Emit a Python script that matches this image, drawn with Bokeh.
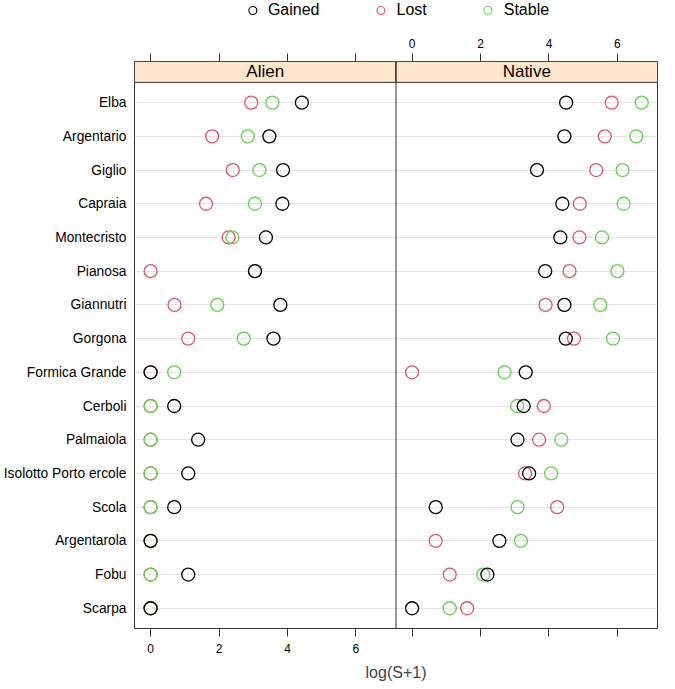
from bokeh.plotting import figure
from bokeh.models import (FixedTicker, CustomJSTickFormatter, LinearAxis, Range1d,
                          Span, Legend, LegendItem)
from bokeh.layouts import column
from bokeh.core.properties import value
from bokeh.embed import file_html
from bokeh.resources import INLINE

# ---------------- data ----------------
islands = ["Elba", "Argentario", "Giglio", "Capraia", "Montecristo", "Pianosa",
           "Giannutri", "Gorgona", "Formica Grande", "Cerboli", "Palmaiola",
           "Isolotto Porto ercole", "Scola", "Argentarola", "Fobu", "Scarpa"]
panels = ["Alien", "Native"]
groups = ["Gained", "Lost", "Stable"]

alien_gained = [4.42, 3.47, 3.87, 3.85, 3.37, 3.05, 3.79, 3.59, 0.0, 0.69, 1.39, 1.10, 0.69, 0.0, 1.10, 0.0]
alien_lost   = [2.94, 1.80, 2.40, 1.62, 2.28, 0.0, 0.70, 1.10, 0.0, 0.0, 0.0, 0.0, 0.0, 0.0, 0.0, 0.0]
alien_stable = [3.56, 2.84, 3.18, 3.05, 2.39, 3.05, 1.95, 2.72, 0.69, 0.0, 0.0, 0.0, 0.0, 0.0, 0.0, 0.0]

native_gained = [4.50, 4.45, 3.65, 4.39, 4.33, 3.89, 4.45, 4.49, 3.32, 3.26, 3.08, 3.42, 0.69, 2.55, 2.20, 0.0]
native_lost   = [5.83, 5.63, 5.38, 4.90, 4.89, 4.60, 3.90, 4.73, 0.0, 3.85, 3.71, 3.30, 4.24, 0.69, 1.10, 1.61]
native_stable = [6.71, 6.55, 6.15, 6.18, 5.55, 6.00, 5.50, 5.87, 2.70, 3.07, 4.36, 4.06, 3.08, 3.18, 2.08, 1.10]

tick_values = [0, 2, 4, 6]

# ---------------- style ----------------
FONT = "Liberation Sans"
COLORS = {"Gained": "#000000", "Lost": "#DF536B", "Stable": "#61D04F"}
EDGE = "#333333"
STRIP = "#FFE5CC"

PAD = 0.47          # left padding of each panel (data units)
XHI = 7.17          # right edge of each panel
OFF = PAD + XHI     # offset of Native panel in combined coordinate
Y_LO, Y_BODY, Y_TOP = 0.4, 16.6, 17.22

n = len(islands)
rows = [n - i for i in range(n)]

series = {
    "Gained": (alien_gained, native_gained),
    "Lost": (alien_lost, native_lost),
    "Stable": (alien_stable, native_stable),
}

# ---------------- key (legend) strip ----------------
lf = figure(width=659, height=22, x_range=(100, 101), y_range=(100, 101),
            output_backend="svg", toolbar_location=None,
            x_axis_location=None, y_axis_location=None,
            min_border_left=131, min_border_right=2, min_border_top=0, min_border_bottom=0)
lf.title.visible = False
lf.outline_line_color = None
lf.xgrid.visible = False
lf.ygrid.visible = False
items = []
for g in groups:
    r = lf.scatter(x=series[g][0], y=rows, marker="circle", size=8, fill_color=None,
                   line_color=COLORS[g], line_width=1.1, muted_alpha=0)
    r.muted = True
    items.append(LegendItem(label=g, renderers=[r]))
leg = Legend(items=items, orientation="horizontal", location="top_center",
             glyph_width=20, glyph_height=20, label_standoff=6, spacing=51,
             padding=0, margin=0, border_line_color=None, background_fill_alpha=0,
             label_text_font=FONT, label_text_font_size="16px", label_text_color="#000000")
lf.add_layout(leg, "center")

# ---------------- main figure ----------------
p = figure(width=659, height=663,
           x_range=Range1d(-PAD, XHI + OFF), y_range=Range1d(Y_LO, Y_TOP),
           output_backend="svg", toolbar_location=None,
           min_border_left=131, min_border_right=2, min_border_top=39, min_border_bottom=57)
p.title.visible = False
p.outline_line_color = EDGE
p.outline_line_width = 1
p.xgrid.visible = False

all_ticks = tick_values + [t + OFF for t in tick_values]

# bottom axis (labels only for Alien)
xa = p.xaxis[0]
xa.ticker = FixedTicker(ticks=all_ticks)
xa.formatter = CustomJSTickFormatter(args=dict(hi=XHI),
                                     code="return tick < hi ? tick.toFixed(0) : '';")
xa.axis_label = "log(S+1)"
xa.axis_label_text_font = FONT
xa.axis_label_text_font_size = "16px"
xa.axis_label_text_font_style = "normal"
xa.axis_label_standoff = 8
xa.major_label_standoff = 7

# top axis (labels only for Native)
ta = LinearAxis(ticker=FixedTicker(ticks=all_ticks),
                formatter=CustomJSTickFormatter(args=dict(hi=XHI, off=OFF),
                                                code="return tick > hi ? (tick - off).toFixed(0) : '';"))
ta.major_label_standoff = 6
p.add_layout(ta, "above")

for ax in (xa, ta):
    ax.axis_line_color = None
    ax.major_tick_out = 8
    ax.major_tick_in = 0
    ax.minor_tick_out = 0
    ax.minor_tick_in = 0
    ax.major_tick_line_color = EDGE
    ax.major_label_text_font = FONT
    ax.major_label_text_font_size = "12px"
    ax.major_label_text_color = "#000000"

ya = p.yaxis[0]
ya.ticker = FixedTicker(ticks=rows)
ya.major_label_overrides = {rows[i]: islands[i] for i in range(n)}
ya.axis_line_color = None
ya.major_tick_out = 0
ya.major_tick_in = 0
ya.minor_tick_out = 0
ya.minor_tick_in = 0
ya.major_label_standoff = 8
ya.major_label_text_font = FONT
ya.major_label_text_font_size = "13.8px"
ya.major_label_text_color = "#000000"

p.ygrid.ticker = FixedTicker(ticks=rows)
p.ygrid.grid_line_color = "#E5E5E5"
p.ygrid.grid_line_width = 1

# strips
p.quad(left=[-PAD, XHI], right=[XHI, XHI + OFF], bottom=[Y_BODY, Y_BODY], top=[Y_TOP, Y_TOP],
       fill_color=STRIP, line_color=EDGE, line_width=1)
p.text(x=[(XHI - PAD) / 2, XHI + OFF / 2], y=[(Y_BODY + Y_TOP) / 2] * 2, text=panels,
       text_align="center", text_baseline="middle", text_font=value(FONT),
       text_font_size="17px", text_color="#000000")

# divider between panels
p.add_layout(Span(location=XHI, dimension="height", line_color=EDGE, line_width=1))

# points (drawn Lost, Stable, Gained)
for g in ["Lost", "Stable", "Gained"]:
    a, nv = series[g]
    xs = list(a) + [v + OFF for v in nv]
    ys = rows + rows
    p.scatter(x=xs, y=ys, marker="circle", size=13, fill_color=None,
              line_color=COLORS[g], line_width=1.3)

layout = column(lf, p)
open("out.html", "w").write(file_html(layout, INLINE))
